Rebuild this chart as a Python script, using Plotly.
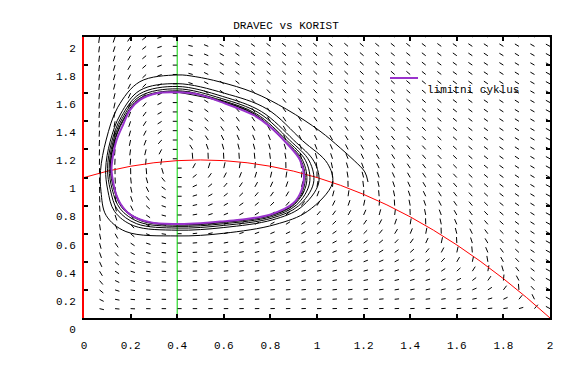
import math
import numpy as np
import plotly.graph_objects as go

# ---------------- text ----------------
TITLE = "DRAVEC vs KORIST"
LEGEND_LABEL = "limitni cyklus"
X_TICKS = [0, 0.2, 0.4, 0.6, 0.8, 1.0, 1.2, 1.4, 1.6, 1.8, 2.0]
X_TICK_LABELS = ["0", "0.2", "0.4", "0.6", "0.8", "1", "1.2", "1.4", "1.6", "1.8", "2"]
Y_TICKS = [0, 0.2, 0.4, 0.6, 0.8, 1.0, 1.2, 1.4, 1.6, 1.8, 2.0]
Y_TICK_LABELS = ["0", "0.2", "0.4", "0.6", "0.8", "1", "1.2", "1.4", "1.6", "1.8", "2"]

# ---------------- model read from the nullclines (direction field) ----------------
CAPACITY = 2.0      # red nullcline reaches y=0 at x=2
HALF_SAT = 1.0      # red nullcline: y=1 at x=0, peak near x=0.5
PRED_GAIN = 0.7
PRED_DEATH = 0.2    # predator nullcline at x = 0.4 (green)

# ---------------- red prey nullcline (read) ----------------
NULL_X = [0.0, 0.1, 0.2, 0.3, 0.4, 0.5, 0.6, 0.7, 0.8, 0.9, 1.0,
          1.1, 1.2, 1.3, 1.4, 1.5, 1.6, 1.7, 1.8, 1.9, 2.0]
NULL_Y = [1.0, 1.045, 1.08, 1.105, 1.12, 1.125, 1.12, 1.105, 1.08, 1.045, 1.0,
          0.945, 0.88, 0.805, 0.72, 0.625, 0.52, 0.405, 0.28, 0.145, 0.0]

# ---------------- green predator nullcline ----------------
PRED_NULL_X = [0.4, 0.4]
PRED_NULL_Y = [0.0, 2.0]

# ---------------- black trajectory spiralling onto the cycle (read) ----------------
TRAJ_X = [1.219, 1.205, 1.16, 1.10, 1.013, 0.87, 0.727, 0.584, 0.48,
          0.40, 0.24, 0.145, 0.095, 0.071, 0.073, 0.095, 0.18, 0.40, 0.60, 0.82, 0.96, 1.066, 1.045, 0.938, 0.786, 0.602,
          0.40, 0.24, 0.157, 0.112, 0.093, 0.102, 0.131, 0.214, 0.40, 0.60, 0.810, 0.931, 1.007, 0.988, 0.900, 0.762, 0.595,
          0.40, 0.24, 0.161, 0.118, 0.101, 0.113, 0.144, 0.226, 0.40, 0.60, 0.807, 0.920, 0.985, 0.967, 0.882, 0.750, 0.591,
          0.40, 0.24, 0.164, 0.123, 0.108, 0.121, 0.155, 0.236, 0.40, 0.60, 0.804, 0.912, 0.968, 0.951, 0.868, 0.740, 0.587,
          0.40, 0.24, 0.167, 0.127, 0.113, 0.128, 0.163, 0.244, 0.40, 0.60, 0.802, 0.905, 0.955, 0.938, 0.858, 0.735, 0.586,
          0.40, 0.24, 0.168, 0.129, 0.115, 0.131, 0.167, 0.248, 0.40, 0.60, 0.801, 0.902, 0.948, 0.931, 0.853, 0.732, 0.585,
          0.40]
TRAJ_Y = [0.968, 1.04, 1.12, 1.21, 1.33, 1.485, 1.605, 1.68, 1.717,
          1.730, 1.682, 1.50, 1.267, 1.05, 0.90, 0.73, 0.615, 0.584, 0.603, 0.665, 0.76, 0.96, 1.10, 1.262, 1.487, 1.60,
          1.668, 1.620, 1.452, 1.254, 1.060, 0.910, 0.759, 0.656, 0.625, 0.644, 0.699, 0.787, 0.96, 1.112, 1.266, 1.469, 1.577,
          1.648, 1.596, 1.434, 1.249, 1.063, 0.913, 0.770, 0.671, 0.640, 0.659, 0.711, 0.797, 0.96, 1.117, 1.267, 1.460, 1.562,
          1.631, 1.578, 1.420, 1.245, 1.066, 0.916, 0.778, 0.683, 0.652, 0.671, 0.721, 0.805, 0.96, 1.120, 1.268, 1.453, 1.551,
          1.617, 1.564, 1.409, 1.242, 1.068, 0.918, 0.785, 0.692, 0.661, 0.680, 0.729, 0.811, 0.96, 1.123, 1.269, 1.449, 1.545,
          1.610, 1.557, 1.403, 1.241, 1.069, 0.919, 0.788, 0.697, 0.666, 0.685, 0.733, 0.814, 0.96, 1.124, 1.270, 1.447, 1.543,
          1.608]

# ---------------- purple limit cycle (read) ----------------
CYCLE_X = [0.40, 0.312, 0.240, 0.197, 0.169, 0.140, 0.124, 0.118, 0.126, 0.140, 0.158, 0.197, 0.283, 0.40,
           0.50, 0.584, 0.670, 0.798, 0.898, 0.934, 0.944, 0.927, 0.870, 0.798, 0.727, 0.584, 0.498, 0.40]
CYCLE_Y = [1.606, 1.599, 1.552, 1.48, 1.38, 1.267, 1.15, 1.06, 0.96, 0.87, 0.81, 0.738, 0.681, 0.669,
           0.674, 0.686, 0.700, 0.735, 0.816, 0.911, 1.018, 1.125, 1.243, 1.362, 1.445, 1.54, 1.588, 1.606]

FONT = "Liberation Mono"
PURPLE = "#9933cc"

# direction field segments, normalised, anchored at grid points
grid_cols = np.linspace(0, 2, 31)[1:]
grid_rows = np.linspace(0, 2, 31)[1:]
SEG_X_LEN = 0.019
SEG_Y_LEN = 0.043
fx, fy = [], []
for x0 in grid_cols:
    for y0 in grid_rows:
        dx = x0 * (1 - x0 / CAPACITY) - x0 * y0 / (HALF_SAT + x0)
        dy = y0 * (PRED_GAIN * x0 / (HALF_SAT + x0) - PRED_DEATH)
        n = math.hypot(dx, dy)
        if n == 0:
            continue
        fx += [x0, x0 + SEG_X_LEN * dx / n, None]
        fy += [y0, y0 + SEG_Y_LEN * dy / n, None]

fig = go.Figure()
fig.add_trace(go.Scatter(x=fx, y=fy, mode="lines", line=dict(color="black", width=1),
                         hoverinfo="skip", showlegend=False))
fig.add_trace(go.Scatter(x=PRED_NULL_X, y=PRED_NULL_Y, mode="lines",
                         line=dict(color="#00d000", width=1), showlegend=False))
fig.add_trace(go.Scatter(x=NULL_X, y=NULL_Y, mode="lines",
                         line=dict(color="#ff0000", width=1), showlegend=False))
fig.add_trace(go.Scatter(x=TRAJ_X, y=TRAJ_Y, mode="lines",
                         line=dict(color="black", width=1, shape="spline", smoothing=1.0), showlegend=False))
fig.add_trace(go.Scatter(x=CYCLE_X, y=CYCLE_Y, mode="lines", name=LEGEND_LABEL,
                         line=dict(color=PURPLE, width=2, shape="spline", smoothing=1.0), showlegend=False))
# invisible trace to bring up the right-hand axis
fig.add_trace(go.Scatter(x=[None], y=[None], yaxis="y2", showlegend=False, hoverinfo="skip"))

tick_font = dict(family=FONT, size=11, color="black")
fig.update_layout(
    width=575, height=368,
    margin=dict(l=84, r=25, t=37, b=50),
    paper_bgcolor="white", plot_bgcolor="white",
    showlegend=False,
    title=dict(text=TITLE, x=286 / 575, xref="container", xanchor="center",
               y=1 - 25 / 368, yref="container", yanchor="middle",
               font=dict(family=FONT, size=11, color="black")),
    xaxis=dict(range=[0, 2], tickvals=X_TICKS, ticktext=X_TICK_LABELS,
               ticks="inside", ticklen=4, tickwidth=2, tickcolor="black",
               showline=True, linecolor="black", linewidth=2, mirror="ticks",
               showgrid=False, zeroline=False, tickfont=tick_font,
               ticklabelstandoff=16),
    yaxis=dict(range=[0, 2], tickvals=Y_TICKS, ticktext=Y_TICK_LABELS,
               ticks="inside", ticklen=4, tickwidth=2, tickcolor="black",
               showline=True, linecolor="#ff0000", linewidth=2, mirror=False,
               showgrid=False, zeroline=False, tickfont=tick_font,
               ticklabelshift=11, ticklabelstandoff=4),
    yaxis2=dict(range=[0, 2], overlaying="y", side="right", tickvals=Y_TICKS,
                ticks="inside", ticklen=4, tickwidth=2, tickcolor="black",
                showline=True, linecolor="black", linewidth=2,
                showgrid=False, zeroline=False, showticklabels=False),
)

# legend: sample line + label (gnuplot style)
fig.add_shape(type="line", xref="paper", yref="paper",
              x0=(390 - 84) / 466, x1=(418 - 84) / 466,
              y0=(318 - 78) / 281, y1=(318 - 78) / 281,
              line=dict(color=PURPLE, width=2))
fig.add_annotation(text=LEGEND_LABEL, xref="paper", yref="paper",
                   x=(425 - 84) / 466, y=(318 - 89.5) / 281,
                   xanchor="left", yanchor="middle", showarrow=False,
                   font=dict(family=FONT, size=11, color="black"))

fig.write_html("out.html", config={"displayModeBar": False},
               post_script="document.body.style.margin='0px';")
